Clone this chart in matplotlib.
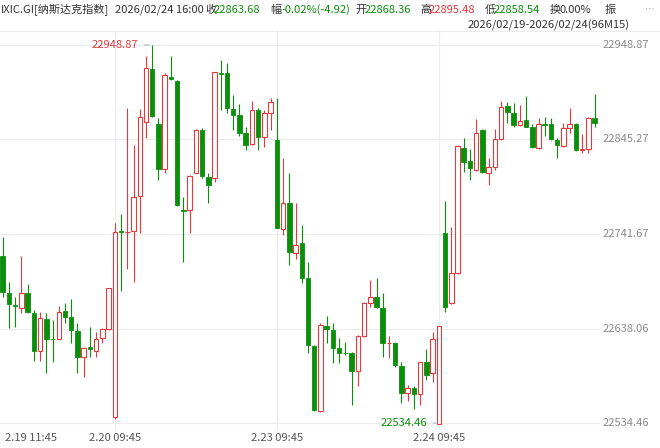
import matplotlib
matplotlib.use("Agg")
import matplotlib.pyplot as plt

plt.rcParams["font.family"] = ["Noto Sans CJK SC", "DejaVu Sans"]

RED = "#E8383D"
GREEN = "#0B8F0B"
GRAY = "#8A8A8A"
GRID = "#ECECEC"

# 96 x 15min bars, 2026/02/19 11:45 - 2026/02/24 16:00
opens = [22717.6, 22677.4, 22663.8, 22660.9, 22677.4, 22655.4, 22613.4, 22648.1, 22626.9, 22626.2,
         22656.9, 22651.1, 22635.3, 22607.2, 22617.4, 22613.8, 22627.3, 22637.2, 22540.7, 22745.0,
         22743.5, 22745.3, 22783.3, 22864.1, 22922.5, 22862.3, 22812.6, 22914.1, 22909.8, 22768.0,
         22768.0, 22808.9, 22855.7, 22804.5, 22803.4, 22917.8, 22917.8, 22878.3, 22872.1, 22852.0,
         22840.0, 22877.6, 22848.4, 22873.9, 22844.7, 22747.2, 22775.3, 22721.2, 22731.4, 22693.1,
         22618.9, 22548.0, 22640.8, 22636.4, 22617.1, 22611.6, 22610.9, 22591.9, 22629.9, 22666.4,
         22673.0, 22660.2, 22621.8, 22622.6, 22597.0, 22567.0, 22573.2, 22566.3, 22601.4, 22588.9,
         22533.4, 22742.4, 22665.7, 22698.6, 22835.6, 22821.7, 22811.8, 22855.7, 22808.9, 22815.5,
         22845.4, 22882.4, 22873.9, 22861.2, 22866.6, 22859.3, 22835.6, 22861.9, 22861.9, 22844.7,
         22838.1, 22857.5, 22862.3, 22833.8, 22834.5, 22868.36]
highs = [22738.8, 22689.4, 22673.0, 22717.6, 22686.9, 22658.4, 22655.8, 22654.7, 22647.4, 22662.7,
         22666.4, 22670.1, 22643.7, 22618.2, 22640.1, 22634.6, 22638.3, 22682.1, 22754.1, 22763.2,
         22879.4, 22839.2, 22878.3, 22936.8, 22948.87, 22868.5, 22917.8, 22936.8, 22910.5, 22782.6,
         22806.3, 22856.4, 22857.5, 22808.2, 22919.6, 22932.4, 22928.8, 22894.0, 22884.2, 22859.3,
         22887.8, 22879.4, 22877.6, 22890.4, 22890.4, 22825.4, 22808.2, 22775.3, 22751.5, 22711.3,
         22620.0, 22643.7, 22651.8, 22643.7, 22627.3, 22623.7, 22612.7, 22631.0, 22667.5, 22691.2,
         22693.1, 22676.6, 22629.9, 22623.7, 22601.7, 22576.1, 22575.0, 22601.7, 22615.2, 22634.6,
         22640.8, 22778.2, 22749.0, 22839.2, 22846.5, 22834.5, 22867.4, 22856.4, 22825.4, 22856.4,
         22887.8, 22886.7, 22885.6, 22883.1, 22893.0, 22861.9, 22868.5, 22870.3, 22868.5, 22846.5,
         22863.0, 22879.4, 22863.0, 22851.3, 22869.6, 22895.48]
lows = [22673.0, 22638.3, 22640.1, 22654.7, 22654.7, 22602.8, 22602.8, 22588.9, 22601.7, 22626.2,
        22644.5, 22621.8, 22588.9, 22585.3, 22607.2, 22607.2, 22621.8, 22636.4, 22538.5, 22679.6,
        22702.9, 22689.4, 22742.4, 22846.5, 22870.3, 22800.9, 22808.2, 22910.5, 22772.4, 22711.3,
        22742.4, 22808.2, 22802.7, 22775.3, 22799.0, 22877.6, 22873.9, 22855.7, 22849.1, 22833.8,
        22839.2, 22833.8, 22837.4, 22855.7, 22747.9, 22740.6, 22707.7, 22713.9, 22687.6, 22611.6,
        22548.0, 22546.9, 22621.8, 22599.9, 22599.9, 22609.0, 22554.2, 22575.1, 22629.1, 22662.0,
        22660.2, 22607.2, 22605.4, 22596.2, 22556.8, 22559.0, 22549.5, 22554.2, 22581.6, 22579.8,
        22534.46, 22656.5, 22664.9, 22697.8, 22810.0, 22800.9, 22811.1, 22808.9, 22795.4, 22811.8,
        22844.7, 22863.0, 22859.3, 22860.1, 22858.6, 22835.6, 22834.9, 22849.1, 22844.7, 22824.6,
        22837.4, 22852.0, 22833.0, 22830.8, 22830.1, 22858.54]
closes = [22678.5, 22664.6, 22663.1, 22677.4, 22656.5, 22613.8, 22650.0, 22626.9, 22626.2, 22656.5,
          22651.1, 22636.4, 22607.2, 22617.1, 22615.2, 22626.6, 22637.2, 22682.1, 22744.2, 22743.5,
          22744.2, 22781.9, 22869.6, 22924.0, 22871.0, 22812.6, 22916.0, 22911.2, 22773.5, 22766.9,
          22805.6, 22855.7, 22805.3, 22795.4, 22918.9, 22917.1, 22879.4, 22872.1, 22852.0, 22839.2,
          22877.6, 22847.6, 22873.9, 22886.7, 22748.6, 22775.3, 22722.3, 22729.6, 22693.1, 22620.0,
          22548.7, 22641.9, 22637.2, 22616.3, 22611.6, 22610.9, 22591.9, 22629.9, 22666.4, 22673.0,
          22661.3, 22622.6, 22622.6, 22598.1, 22567.0, 22572.5, 22565.9, 22601.4, 22587.1, 22626.2,
          22640.8, 22661.3, 22698.6, 22838.1, 22821.0, 22813.7, 22852.0, 22810.0, 22815.5, 22845.8,
          22881.3, 22875.8, 22861.2, 22865.9, 22859.3, 22836.7, 22861.9, 22861.5, 22845.4, 22839.2,
          22857.5, 22862.3, 22833.8, 22834.9, 22868.5, 22863.68]

yticks = [22948.87, 22845.27, 22741.67, 22638.06, 22534.46]
xtick_idx = [0, 18, 44, 70]
xtick_labels = ["2.19 11:45", "2.20 09:45", "2.23 09:45", "2.24 09:45"]

fig = plt.figure(figsize=(6.6, 4.48), dpi=100)
ax = fig.add_axes([0.0, 18 / 448, 600 / 660, 400 / 448])
ax.set_xlim(-0.43, 95.87)
ax.set_ylim(22526.8, 22965.3)

for v in yticks:
    ax.axhline(v, color=GRID, lw=0.8, zorder=0)
for i in xtick_idx[1:]:
    ax.axvline(i, color=GRID, lw=0.8, zorder=0)

w = 0.72
for i, (o, h, l, c) in enumerate(zip(opens, highs, lows, closes)):
    up = c >= o
    col = RED if up else GREEN
    lo, hi = min(o, c), max(o, c)
    ax.vlines(i, l, lo, color=col, lw=0.8, zorder=2)
    ax.vlines(i, hi, h, color=col, lw=0.8, zorder=2)
    body = max(hi - lo, 0.6)
    if up:
        ax.bar(i, body, w, bottom=lo, facecolor="white", edgecolor=col, lw=0.8, zorder=3)
    else:
        ax.bar(i, body, w, bottom=lo, facecolor=col, edgecolor=col, lw=0.6, zorder=3)

# max / min markers
imax = highs.index(max(highs))
imin = lows.index(min(lows))
ax.annotate(f"{max(highs):.2f}", (imax, max(highs)), xytext=(imax - 2.2, max(highs)),
            color=RED, fontsize=8, ha="right", va="center",
            arrowprops=dict(arrowstyle="-", color="#7FA7C9", lw=0.6))
ax.annotate(f"{min(lows):.2f}", (imin, min(lows)), xytext=(imin - 1.8, min(lows)),
            color=GREEN, fontsize=8, ha="right", va="center",
            arrowprops=dict(arrowstyle="-", color="#7FA7C9", lw=0.6))

for s in ax.spines.values():
    s.set_visible(False)
ax.set_xticks([])
ax.set_yticks([])

for v in yticks:
    fig.text(603 / 660, ax.transLimits.transform((0, v))[1] * 400 / 448 + 18 / 448,
             f"{v:.2f}", color=GRAY, fontsize=8, va="center", ha="left")

for i, lab in zip(xtick_idx, xtick_labels):
    xf = ax.transLimits.transform((i, 0))[0] * 600 / 660
    fig.text(xf if i else 5 / 660, 10 / 448, lab, color="#555555", fontsize=8,
             ha="center" if i else "left", va="center")

# header
DARK = "#333333"
head = [(1, "IXIC.GI[纳斯达克指数]", DARK), (115, "2026/02/24 16:00", DARK),
        (205, "收", DARK), (214, "22863.68", GREEN), (270, "幅", DARK),
        (281, "-0.02%(-4.92)", GREEN), (355, "开", DARK), (365, "22868.36", GREEN),
        (420, "高", DARK), (429, "22895.48", RED), (485, "低", DARK),
        (494, "22858.54", GREEN), (550, "换", DARK), (560, "0.00%", DARK), (605, "振", DARK)]
for x, t, c in head:
    fig.text(x / 660, 1 - 10 / 448, t, color=c, fontsize=8, va="center", ha="left")
fig.text(630 / 660, 1 - 25 / 448, "2026/02/19-2026/02/24(96M15)", color=DARK,
         fontsize=8, va="center", ha="right")
fig.text(650 / 660, 1 - 10 / 448, "…", color=GRAY, fontsize=7, va="center", ha="center")
fig.add_artist(plt.Line2D([0, 1], [1 - 31 / 448] * 2, color=GRID, lw=0.8))

fig.savefig("out.png", facecolor="white")
